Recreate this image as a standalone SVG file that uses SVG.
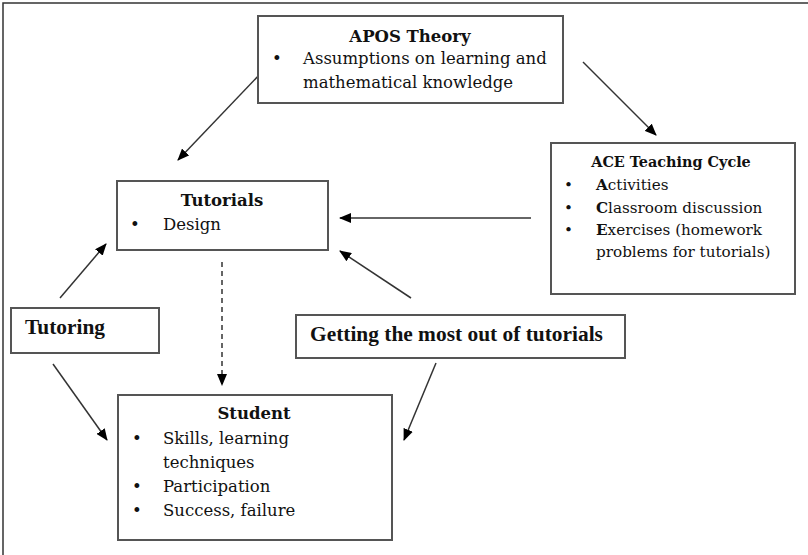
<svg xmlns="http://www.w3.org/2000/svg" width="808" height="555" viewBox="0 0 808 555">
<defs>
<marker id="ah" viewBox="0 0 12 10" refX="11" refY="5" markerWidth="12" markerHeight="10" markerUnits="userSpaceOnUse" orient="auto">
<path d="M0,0 L12,5 L0,10 z" fill="#000"/>
</marker>
<style>
.box{fill:#fff;stroke:#555;stroke-width:2}
.t{font-family:"DejaVu Serif","Liberation Serif",serif;font-size:16.5px;fill:#111}
.s{font-size:15.2px}
.b{font-weight:bold}
.tr{font-family:"Liberation Serif",serif;font-size:21.4px;font-weight:bold;fill:#111}
.c{stroke:#333;stroke-width:1.5;fill:none;marker-end:url(#ah)}
</style>
</defs>
<rect x="0" y="0" width="808" height="555" fill="#fff"/>
<rect x="3" y="3" width="812" height="560" fill="none" stroke="#333" stroke-width="1.5"/>
<g id="connectors">
<line class="c" x1="262" y1="72" x2="178" y2="160"/>
<line class="c" x1="583" y1="62" x2="656" y2="135"/>
<line class="c" x1="531" y1="218" x2="340" y2="218"/>
<line class="c" x1="60" y1="298" x2="106" y2="244"/>
<line class="c" x1="53" y1="364" x2="107" y2="440"/>
<line class="c" x1="411" y1="298" x2="340" y2="251"/>
<line class="c" x1="436" y1="363" x2="404" y2="440"/>
<line class="c" x1="222" y1="262" x2="222" y2="385" stroke-dasharray="5,4"/>
</g>
<g id="apos">
<rect class="box" x="258" y="16" width="305" height="87"/>
<text class="t b" x="410" y="42" text-anchor="middle">APOS Theory</text>
<text class="t" x="272" y="64">•</text>
<text class="t" x="303" y="64">Assumptions on learning and</text>
<text class="t" x="303" y="88">mathematical knowledge</text>
</g>
<g id="ace">
<rect class="box" x="551" y="143" width="244" height="151"/>
<text class="t b" x="671" y="167" text-anchor="middle" style="font-size:14.4px">ACE Teaching Cycle</text>
<text class="t s" x="564" y="190">•</text>
<text class="t s" x="596" y="190"><tspan class="b">A</tspan>ctivities</text>
<text class="t s" x="564" y="213">•</text>
<text class="t s" x="596" y="213"><tspan class="b">C</tspan>lassroom discussion</text>
<text class="t s" x="564" y="235">•</text>
<text class="t s" x="596" y="235"><tspan class="b">E</tspan>xercises (homework</text>
<text class="t s" x="596" y="257">problems for tutorials)</text>
</g>
<g id="tutorials">
<rect class="box" x="117" y="181" width="211" height="69"/>
<text class="t b" x="222" y="206" text-anchor="middle">Tutorials</text>
<text class="t" x="130" y="230">•</text>
<text class="t" x="163" y="230">Design</text>
</g>
<g id="tutoring">
<rect class="box" x="11" y="308" width="148" height="45"/>
<text class="tr" x="25" y="334">Tutoring</text>
</g>
<g id="getting">
<rect class="box" x="296" y="315" width="329" height="43"/>
<text class="tr" x="310" y="341">Getting the most out of tutorials</text>
</g>
<g id="student">
<rect class="box" x="118" y="395" width="274" height="145"/>
<text class="t b" x="254" y="419" text-anchor="middle">Student</text>
<text class="t" x="132" y="444">•</text>
<text class="t" x="163" y="444">Skills, learning</text>
<text class="t" x="163" y="468">techniques</text>
<text class="t" x="132" y="492">•</text>
<text class="t" x="163" y="492">Participation</text>
<text class="t" x="132" y="516">•</text>
<text class="t" x="163" y="516">Success, failure</text>
</g>
</svg>
